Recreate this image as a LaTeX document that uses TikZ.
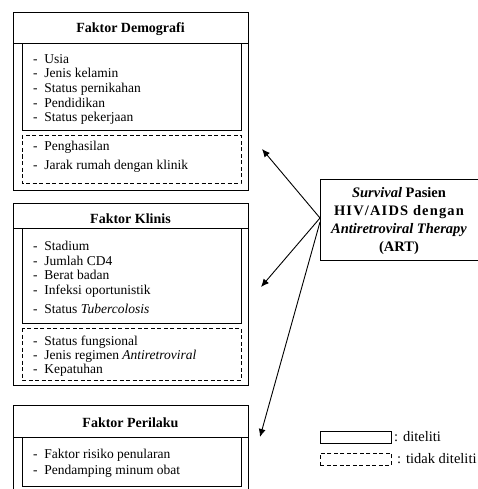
\documentclass[tikz,border=0pt]{standalone}
\usepackage{fontspec}
\setmainfont{Liberation Serif}
\usetikzlibrary{arrows.meta}
\begin{document}
\begin{tikzpicture}[x=1pt,y=-1pt,
  box/.style={draw,line width=0.9pt},
  dbox/.style={draw,line width=0.9pt,dash pattern=on 4pt off 2.5pt},
  hdr/.style={font=\fontsize{14}{16}\selectfont\bfseries},
  lst/.style={anchor=north west,align=left,inner sep=0pt,font=\fontsize{13.5}{14.7}\selectfont},
  arr/.style={line width=0.9pt,-{Latex[length=8pt,width=7pt]}}]
\useasboundingbox (0,0) rectangle (478,489);
% Demografi
\draw[box] (13,12) rectangle (248,190);
\draw[box] (13,43) -- (248,43);
\node[hdr] (hd) at (130.5,29) {Faktor Demografi};
\draw[box] (22,43) rectangle (241,130);
\draw[dbox] (22,135) rectangle (241,183);
\node[lst] (l1) at (33,54) {-\ \ Usia\\-\ \ Jenis kelamin\\-\ \ Status pernikahan\\-\ \ Pendidikan\\-\ \ Status pekerjaan};
\node[lst] (l2) at (33,141) {-\ \ Penghasilan\\[4pt]-\ \ Jarak rumah dengan klinik};
% Klinis
\draw[box] (13,203) rectangle (248,385);
\draw[box] (13,228) -- (248,228);
\node[hdr] (hk) at (130.5,219) {Faktor Klinis};
\draw[box] (22,228) rectangle (241,323);
\draw[dbox] (22,328) rectangle (241,380);
\node[lst] (k1) at (33,241) {-\ \ Stadium\\-\ \ Jumlah CD4\\-\ \ Berat badan\\-\ \ Infeksi oportunistik\\[4pt]-\ \ Status \textit{Tubercolosis}};
\node[lst] (k2) at (33,335.5) {-\ \ Status fungsional\\-\ \ Jenis regimen \textit{Antiretroviral}\\[-1.5pt]-\ \ Kepatuhan};
% Perilaku
\draw[box] (13,405) -- (248,405);
\draw[box] (13,405) -- (13,495);
\draw[box] (248,405) -- (248,495);
\draw[box] (13,437) -- (248,437);
\node[hdr] (hp) at (130.5,423) {Faktor Perilaku};
\draw[box] (22,437) rectangle (241,486);
\node[lst] (p1) at (33,448.5) {-\ \ Faktor risiko penularan\\[2pt]-\ \ Pendamping minum obat};
% ART
\node[box,anchor=north west,minimum width=162pt,minimum height=81pt,inner sep=0pt] (art) at (320,179) {};
\node[align=center,font=\fontsize{14.5}{18}\selectfont\bfseries,inner sep=0pt] (artt) at (399,221) {\textit{Survival} Pasien\\{\addfontfeature{LetterSpace=8}HIV/AIDS dengan}\\\textit{Antiretroviral Therapy}\\(ART)};
\coordinate (s1) at (320,218);
\coordinate (s3) at (320,222);
\coordinate (t1) at (262,149);
\coordinate (t2) at (261,287);
\coordinate (t3) at (260,437);
\draw[arr] (s1) -- (t1);
\draw[arr] (s1) -- (t2);
\draw[arr] (s3) -- (t3);
% legend
\node[box,anchor=north west,minimum width=71pt,minimum height=12pt,inner sep=0pt] (lg1) at (320,431) {};
\node[dbox,anchor=north west,minimum width=71pt,minimum height=12pt,inner sep=0pt] (lg2) at (320,453) {};
\node[anchor=west,inner sep=0pt,font=\fontsize{14.5}{16}\selectfont] (lt1) at (394,437) {: diteliti};
\node[anchor=west,inner sep=0pt,font=\fontsize{14.5}{16}\selectfont] (lt2) at (397,459) {: tidak diteliti};
\end{tikzpicture}
\end{document}
